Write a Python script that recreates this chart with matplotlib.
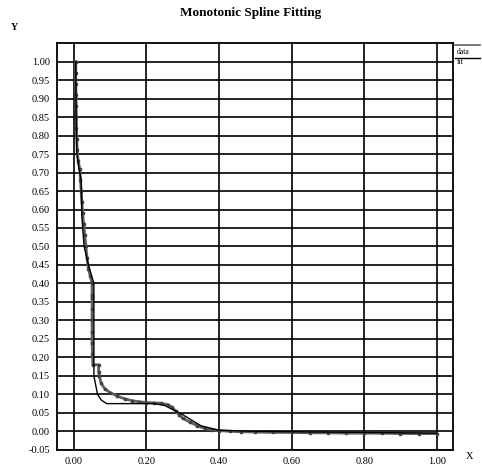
import numpy as np
import matplotlib
matplotlib.use('Agg')
import matplotlib.pyplot as plt
from matplotlib.lines import Line2D

data_x = [0.005, 0.005, 0.005, 0.006, 0.006, 0.007, 0.007, 0.008, 0.009, 0.012,
          0.016, 0.018, 0.020, 0.022, 0.024, 0.027, 0.030, 0.033, 0.036, 0.040,
          0.045, 0.050, 0.050, 0.050, 0.050, 0.050, 0.050, 0.050, 0.051, 0.052,
          0.068, 0.068, 0.070, 0.075, 0.085, 0.10, 0.12, 0.14, 0.16, 0.18,
          0.20, 0.22, 0.24, 0.26, 0.27, 0.28, 0.29, 0.30, 0.32, 0.34,
          0.36, 0.38, 0.40, 0.43, 0.46, 0.50, 0.55, 0.60, 0.65, 0.70,
          0.75, 0.80, 0.85, 0.90, 0.95, 1.00]
data_y = [1.00, 0.97, 0.94, 0.91, 0.88, 0.85, 0.82, 0.79, 0.76, 0.73,
          0.71, 0.68, 0.65, 0.62, 0.59, 0.56, 0.53, 0.50, 0.47, 0.44,
          0.42, 0.40, 0.37, 0.36, 0.33, 0.30, 0.27, 0.24, 0.21, 0.18,
          0.18, 0.16, 0.15, 0.13, 0.115, 0.105, 0.095, 0.088, 0.083, 0.080,
          0.078, 0.077, 0.076, 0.072, 0.065, 0.055, 0.045, 0.035, 0.025, 0.015,
          0.008, 0.004, 0.002, 0.000, -0.001, -0.002, -0.003, -0.003, -0.004, -0.004,
          -0.005, -0.005, -0.005, -0.006, -0.006, -0.006]

fit_x = [0.005, 0.006, 0.008, 0.014, 0.020, 0.022, 0.028, 0.040, 0.055, 0.055,
         0.065, 0.075, 0.090, 0.22, 0.25, 0.30, 0.35, 0.40, 0.50, 1.00]
fit_y = [1.00, 0.85, 0.75, 0.71, 0.68, 0.58, 0.50, 0.45, 0.40, 0.15,
         0.10, 0.085, 0.075, 0.075, 0.070, 0.045, 0.015, 0.003, 0.000, -0.005]

x_ticks = [0.0, 0.2, 0.4, 0.6, 0.8, 1.0]
y_ticks = np.round(np.arange(-0.05, 1.0001, 0.05), 2)

plt.rcParams['font.family'] = ['Liberation Serif', 'DejaVu Serif']

fig = plt.figure(figsize=(4.82, 4.74), dpi=100)
ax = fig.add_axes([0.118, 0.051, 0.822, 0.858])

ax.plot(data_x, data_y, color='#606060', lw=2.0, marker='s', ms=2,
        mfc='#606060', mec='#404040', zorder=3)
ax.plot(fit_x, fit_y, color='black', lw=1.0, zorder=4)

ax.set_xlim(-0.047, 1.045)
ax.set_ylim(-0.05, 1.05)
ax.set_xticks(x_ticks)
ax.set_xticklabels([f'{v:.2f}' for v in x_ticks])
ax.set_yticks(y_ticks)
ax.set_yticklabels([f'{v:.2f}' for v in y_ticks])
ax.tick_params(length=0, labelsize=7.5, pad=5)
ax.grid(True, color='black', lw=1.2)
ax.set_axisbelow(True)
for s in ax.spines.values():
    s.set_linewidth(1.3)

fig.text(0.52, 0.972, 'Monotonic Spline Fitting', ha='center', va='center',
         fontsize=9.5, fontweight='bold')
fig.text(0.029, 0.943, 'Y', ha='center', va='center', fontsize=7, fontweight='bold')
fig.text(0.975, 0.036, 'X', ha='center', va='center', fontsize=7.5)

# legend at the top right, lines above the labels
fig.add_artist(Line2D([0.945, 0.995], [0.905, 0.905], color='#606060', lw=1.2))
fig.text(0.948, 0.898, 'data', ha='left', va='top', fontsize=5.5)
fig.add_artist(Line2D([0.945, 0.995], [0.878, 0.878], color='black', lw=1.0))
fig.text(0.948, 0.878, 'fit', ha='left', va='top', fontsize=5.5)

fig.savefig('out.png', dpi=100)
